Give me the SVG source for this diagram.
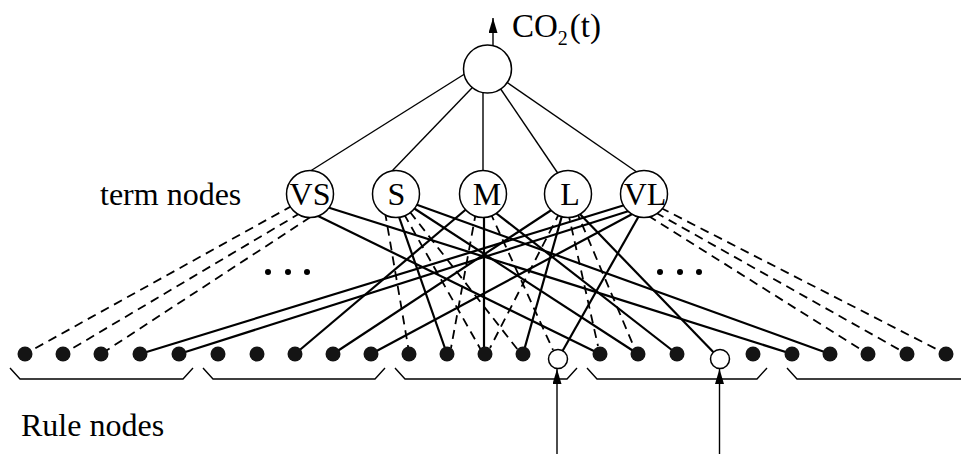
<svg xmlns="http://www.w3.org/2000/svg" width="961" height="454" viewBox="0 0 961 454">
<style>
.bg{fill:#fff}
.top{stroke:#000;stroke-width:1.4;fill:none}
.s{stroke:#000;stroke-width:2.2;fill:none}
.d{stroke:#000;stroke-width:1.8;fill:none;stroke-dasharray:9 6}
.nc{fill:#fff;stroke:#000;stroke-width:1.5}
.dot{fill:#141414}
.oc{fill:#fff;stroke:#000;stroke-width:1.5}
.br{stroke:#000;stroke-width:1.4;fill:none}
.t{font-family:"Liberation Serif","Times New Roman",serif;fill:#000}
.lab{font-size:32px;text-anchor:middle}
.el{fill:#000}
</style>
<defs>
<marker id="ah" markerUnits="userSpaceOnUse" markerWidth="16" markerHeight="10" refX="15" refY="4.5" orient="auto">
<path d="M0,0 L15,4.5 L0,9 z" fill="#000"/>
</marker>
</defs>
<rect class="bg" x="0" y="0" width="961" height="454"/>
<g id="connectors">
<line class="top" x1="467" y1="72.5" x2="308" y2="172.5"/>
<line class="top" x1="474.8" y1="85" x2="390.8" y2="172.3"/>
<line class="top" x1="483" y1="90" x2="483" y2="173"/>
<line class="top" x1="500" y1="88" x2="558.7" y2="174.5"/>
<line class="top" x1="505" y1="81" x2="637.5" y2="172.5"/>
<line class="top" x1="493" y1="46" x2="493" y2="18" marker-end="url(#ah)"/>
<line class="d" x1="292.4" y1="205.6" x2="25" y2="354"/>
<line class="d" x1="300.4" y1="213" x2="63" y2="354"/>
<line class="d" x1="310.5" y1="217.1" x2="101" y2="354"/>
<line class="d" x1="660.5" y1="207.7" x2="946" y2="354"/>
<line class="d" x1="655.6" y1="212.5" x2="907" y2="354"/>
<line class="d" x1="648.2" y1="215.7" x2="868" y2="354"/>
<line class="d" x1="385" y1="212" x2="409" y2="352"/>
<line class="d" x1="404" y1="214" x2="481" y2="350"/>
<line class="d" x1="410" y1="212" x2="518" y2="350"/>
<line class="d" x1="476" y1="212" x2="451" y2="348"/>
<line class="d" x1="490" y1="212" x2="553" y2="350"/>
<line class="d" x1="560" y1="212" x2="490" y2="348"/>
<line class="d" x1="568" y1="212" x2="598" y2="346"/>
<line class="d" x1="576" y1="210" x2="634" y2="347"/>
<line class="s" x1="322" y1="205.5" x2="792" y2="354"/>
<line class="s" x1="315" y1="214.5" x2="600" y2="354"/>
<line class="s" x1="398" y1="214" x2="447" y2="354"/>
<line class="s" x1="412" y1="207" x2="638" y2="354"/>
<line class="s" x1="412" y1="203" x2="830" y2="354"/>
<line class="s" x1="470" y1="206" x2="295" y2="354"/>
<line class="s" x1="484" y1="212" x2="484" y2="354"/>
<line class="s" x1="492" y1="210" x2="677" y2="354"/>
<line class="s" x1="556" y1="207" x2="333" y2="354"/>
<line class="s" x1="563" y1="212" x2="523" y2="354"/>
<line class="s" x1="576" y1="210" x2="720" y2="359"/>
<line class="s" x1="628" y1="204" x2="140" y2="354"/>
<line class="s" x1="632" y1="210" x2="179" y2="354"/>
<line class="s" x1="636" y1="212" x2="371" y2="354"/>
<line class="s" x1="640" y1="214" x2="558" y2="359"/>
<line class="top" x1="557" y1="454" x2="557" y2="369" marker-end="url(#ah)"/>
<line class="top" x1="719.5" y1="454" x2="719.5" y2="369" marker-end="url(#ah)"/>
</g>
<g id="output-node">
<circle class="nc" cx="487.5" cy="69" r="24"/>
<text class="t" x="512" y="37" font-size="33">CO<tspan font-size="20" dy="8">2</tspan><tspan dx="2" dy="-8">(t)</tspan></text>
</g>
<g id="term-VS"><circle class="nc" cx="310" cy="194" r="23.5"/><text class="t lab" x="310" y="205">VS</text></g>
<g id="term-S"><circle class="nc" cx="396" cy="194" r="23.5"/><text class="t lab" x="396.5" y="205">S</text></g>
<g id="term-M"><circle class="nc" cx="483" cy="194" r="23.5"/><text class="t lab" x="487" y="205">M</text></g>
<g id="term-L"><circle class="nc" cx="568" cy="194" r="23.5"/><text class="t lab" x="570" y="205">L</text></g>
<g id="term-VL"><circle class="nc" cx="644" cy="194" r="23.5"/><text class="t lab" x="645" y="205">VL</text></g>
<g id="term-label"><text class="t" x="100" y="205" font-size="32">term nodes</text></g>
<g id="ellipsis">
<circle class="el" cx="268" cy="272" r="3"/><circle class="el" cx="288" cy="272" r="3"/><circle class="el" cx="307" cy="272" r="3"/>
<circle class="el" cx="660" cy="272" r="3"/><circle class="el" cx="680" cy="272" r="3"/><circle class="el" cx="699" cy="272" r="3"/>
</g>
<g id="rule-nodes">
<circle class="dot" cx="25" cy="354" r="7.5"/>
<circle class="dot" cx="63" cy="354" r="7.5"/>
<circle class="dot" cx="101" cy="354" r="7.5"/>
<circle class="dot" cx="140" cy="354" r="7.5"/>
<circle class="dot" cx="179" cy="354" r="7.5"/>
<circle class="dot" cx="218" cy="354" r="7.5"/>
<circle class="dot" cx="257" cy="354" r="7.5"/>
<circle class="dot" cx="295" cy="354" r="7.5"/>
<circle class="dot" cx="333" cy="354" r="7.5"/>
<circle class="dot" cx="371" cy="354" r="7.5"/>
<circle class="dot" cx="409" cy="354" r="7.5"/>
<circle class="dot" cx="447" cy="354" r="7.5"/>
<circle class="dot" cx="485" cy="354" r="7.5"/>
<circle class="dot" cx="523" cy="354" r="7.5"/>
<circle class="oc" cx="558" cy="359" r="9.5"/>
<circle class="dot" cx="600" cy="354" r="7.5"/>
<circle class="dot" cx="638" cy="354" r="7.5"/>
<circle class="dot" cx="677" cy="354" r="7.5"/>
<circle class="oc" cx="720" cy="359" r="9.5"/>
<circle class="dot" cx="753" cy="354" r="7.5"/>
<circle class="dot" cx="792" cy="354" r="7.5"/>
<circle class="dot" cx="830" cy="354" r="7.5"/>
<circle class="dot" cx="868" cy="354" r="7.5"/>
<circle class="dot" cx="907" cy="354" r="7.5"/>
<circle class="dot" cx="946" cy="354" r="7.5"/>
</g>
<g id="groups">
<polyline class="br" points="10,368 20,379 183,379 193,368"/>
<polyline class="br" points="203,368 213,379 375,379 385,368"/>
<polyline class="br" points="395,368 405,379 567,379 577,368"/>
<polyline class="br" points="587,368 597,379 757,379 767,368"/>
<polyline class="br" points="787,368 797,379 961,379"/>
</g>
<g id="rule-label"><text class="t" x="21" y="436" font-size="32">Rule nodes</text></g>
</svg>
